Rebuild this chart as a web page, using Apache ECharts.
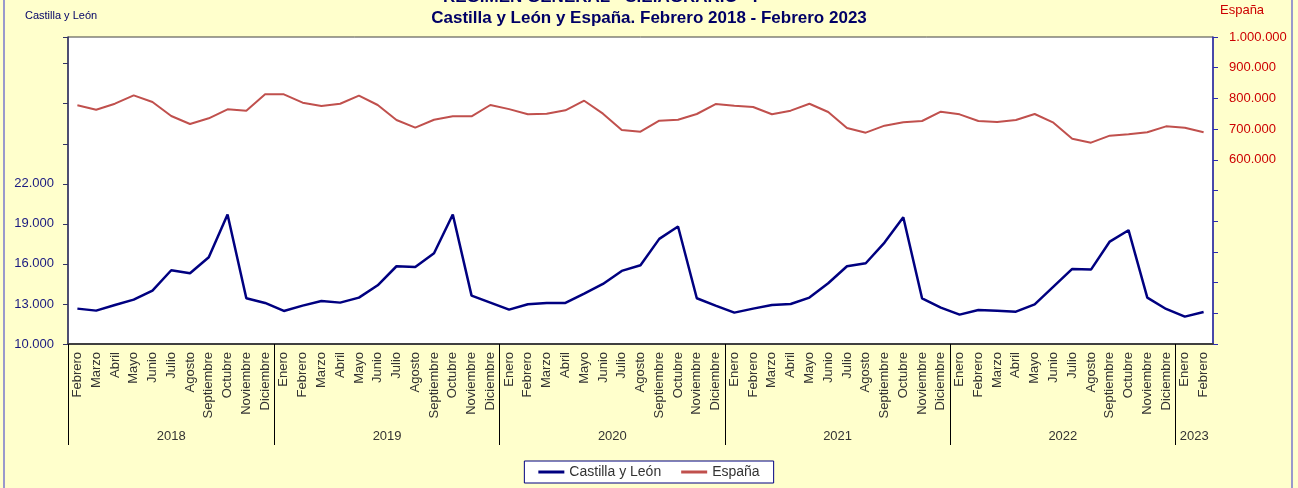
<!DOCTYPE html>
<html>
<head>
<meta charset="utf-8">
<title>Castilla y León y España</title>
<script src="https://cdn.jsdelivr.net/npm/echarts@6/dist/echarts.min.js"></script>
<style>
  html, body { margin: 0; padding: 0; background: #ffffcc; }
  #main { width: 1298px; height: 488px; }
</style>
</head>
<body>
<!-- contenedor del gráfico -->
<div id="main"></div>
<script>
// meses, febrero 2018 - febrero 2023
var monthNames = ['Enero', 'Febrero', 'Marzo', 'Abril', 'Mayo', 'Junio', 'Julio',
  'Agosto', 'Septiembre', 'Octubre', 'Noviembre', 'Diciembre']
var years = ['2018', '2019', '2020', '2021', '2022', '2023']
var monthsPerYear = [11, 12, 12, 12, 12, 2]

// Castilla y León (eje izquierdo)
var castillaLeon = [
  12650, 12500, 12925, 13325, 14000, 15525, 15300, 16500, 19700, 13425, 13075,
  12475, 12875, 13225, 13100, 13475, 14400, 15825, 15775, 16800, 19700, 13625, 13100,
  12575, 12975, 13075, 13075, 13775, 14500, 15475, 15900, 17875, 18800, 13425, 12875,
  12350, 12650, 12925, 13000, 13475, 14550, 15825, 16050, 17600, 19500, 13425, 12725,
  12200, 12550, 12500, 12425, 12975, 14300, 15625, 15575, 17675, 18525, 13475, 12625,
  12050, 12400
]
// España (eje derecho)
var espana = [
  777500, 763200, 782700, 810000, 788200, 742600, 716600, 735100, 764400, 760000, 813300,
  813300, 786000, 775200, 782700, 808900, 778500, 729600, 704600, 730600, 741700, 741700, 778500,
  765000, 748200, 750200, 761200, 792500, 750200, 697000, 691500, 727400, 730600, 749200, 781700,
  776200, 772000, 748200, 760000, 782700, 755700, 703600, 688400, 711200, 722100, 726400, 756800,
  748100, 726400, 723100, 729600, 749200, 720900, 668800, 655800, 678600, 682900, 689500, 709000,
  704600, 689500
]

// categorías del eje de meses
var categories = []
for (var k = 1; k <= castillaLeon.length; k++) {
  categories.push(monthNames[k % 12])
}

// eje de años: medias posiciones de mes, separadores y etiquetas centradas
var halfSlots = []
for (var h = 0; h <= categories.length * 2; h++) halfSlots.push(String(h))
var yearBorders = {}
var yearCenters = {}
var acc = 0
for (var y = 0; y < years.length; y++) {
  yearBorders[acc * 2] = true
  yearCenters[acc * 2 + monthsPerYear[y]] = years[y]
  acc += monthsPerYear[y]
}

function dots(v) {
  return String(v).replace(/\B(?=(\d{3})+(?!\d))/g, '.')
}

var myChart = echarts.init(document.getElementById('main'))
var option = {
  backgroundColor: '#ffffcc',
  animation: false,
  textStyle: { fontFamily: 'Liberation Sans, Arial, sans-serif' },
  title: [
    {
      text: 'RÉGIMEN GENERAL - S.E.AGRARIO - I',
      left: 443,
      top: -11,
      padding: 0,
      textStyle: { fontSize: 17, fontWeight: 'bold', color: '#000066' }
    },
    {
      text: 'Castilla y León y España. Febrero 2018 - Febrero 2023',
      left: 'center',
      top: 10,
      padding: 0,
      textStyle: { fontSize: 17, fontWeight: 'bold', color: '#000066' }
    },
    {
      text: 'Castilla y León',
      left: 25,
      top: 10,
      padding: 0,
      textStyle: { fontSize: 11, fontWeight: 'normal', color: '#000066' }
    },
    {
      text: 'España',
      left: 1220,
      top: 4,
      padding: 0,
      textStyle: { fontSize: 13, fontWeight: 'normal', color: '#cc0000' }
    }
  ],
  graphic: [
    {
      type: 'rect',
      silent: true,
      shape: { x: 4, y: -10, width: 1288, height: 510 },
      style: { fill: 'none', stroke: '#9999cc', lineWidth: 2 }
    }
  ],
  legend: {
    data: [
      { name: 'Castilla y León', icon: 'rect' },
      { name: 'España', icon: 'rect' }
    ],
    left: 'center',
    top: 461,
    padding: [4, 14],
    itemGap: 20,
    itemWidth: 26,
    itemHeight: 3,
    backgroundColor: '#ffffff',
    borderColor: '#000080',
    borderWidth: 1,
    textStyle: { fontSize: 14, color: '#333333' }
  },
  grid: {
    left: 68,
    right: 85,
    top: 37,
    bottom: 144,
    show: true,
    backgroundColor: '#ffffff',
    borderColor: '#404040',
    borderWidth: 1,
    outerBoundsMode: 'none'
  },
  xAxis: [
    {
      type: 'category',
      position: 'bottom',
      data: categories,
      boundaryGap: true,
      axisLine: { lineStyle: { color: '#404040', width: 2 } },
      axisTick: { show: false },
      axisLabel: { interval: 0, rotate: 90, margin: 8, fontSize: 13, color: '#333333' },
      splitLine: { show: false }
    },
    {
      type: 'category',
      position: 'bottom',
      data: halfSlots,
      boundaryGap: false,
      axisLine: { show: false },
      axisTick: {
        show: true,
        length: 101,
        interval: function (i) { return !!yearBorders[i] },
        lineStyle: { color: '#000000', width: 1 }
      },
      axisLabel: {
        interval: function (i) { return yearCenters[i] !== undefined },
        formatter: function (v, i) { return yearCenters[i] || '' },
        margin: 86,
        fontSize: 13,
        color: '#333333'
      },
      splitLine: { show: false }
    }
  ],
  yAxis: [
    {
      type: 'value',
      position: 'left',
      min: 10000,
      max: 33000,
      interval: 3000,
      axisLine: { show: true, lineStyle: { color: '#333366', width: 1.5 } },
      axisTick: { show: true, length: 5, lineStyle: { color: '#333366' } },
      axisLabel: {
        margin: 14,
        fontSize: 13,
        color: '#1a1a80',
        formatter: function (v) { return v <= 22000 ? dots(v) : '' }
      },
      splitLine: { show: false }
    },
    {
      type: 'value',
      position: 'right',
      min: 0,
      max: 1000000,
      interval: 100000,
      axisLine: { show: true, lineStyle: { color: '#2b2bb0', width: 1.5 } },
      axisTick: { show: true, length: 5, lineStyle: { color: '#2b2bb0' } },
      axisLabel: {
        margin: 16,
        fontSize: 13,
        color: '#cc0000',
        formatter: function (v) { return v >= 600000 ? dots(v) : '' }
      },
      splitLine: { show: false }
    }
  ],
  series: [
    {
      name: 'Castilla y León',
      type: 'line',
      xAxisIndex: 0,
      yAxisIndex: 0,
      symbol: 'none',
      data: castillaLeon,
      itemStyle: { color: '#000080' },
      lineStyle: { color: '#000080', width: 2.5 }
    },
    {
      name: 'España',
      type: 'line',
      xAxisIndex: 0,
      yAxisIndex: 1,
      symbol: 'none',
      data: espana,
      itemStyle: { color: '#c0504d' },
      lineStyle: { color: '#c0504d', width: 2 }
    }
  ]
}
myChart.setOption(option)
</script>
</body>
</html>
